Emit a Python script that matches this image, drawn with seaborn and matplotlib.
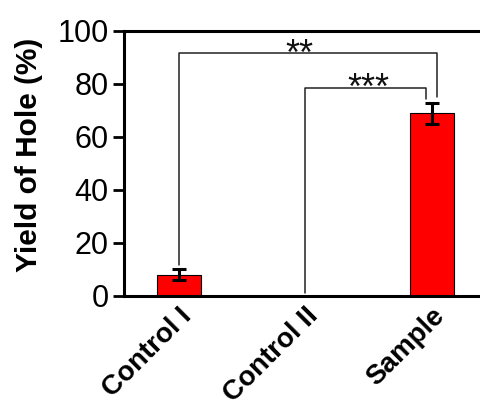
import matplotlib
matplotlib.use("Agg")
import matplotlib.pyplot as plt
import seaborn as sns
import pandas as pd

# data
groups = ["Control I", "Control II", "Sample"]
yield_mean = [8, 0, 69]
yield_err = [2, 0, 4]
y_ticks = [0, 20, 40, 60, 80, 100]

sns.set_style("ticks")
plt.rcParams['font.family'] = ['Liberation Sans', 'DejaVu Sans']

df = pd.DataFrame({"group": groups, "yield": yield_mean})

fig = plt.figure(figsize=(4.81, 4.12), dpi=100)
ax = fig.add_axes([0.258, 0.2816, 0.742, 0.6432])

sns.barplot(data=df, x="group", y="yield", color="#ff0000", edgecolor="black",
            linewidth=0.8, width=0.35, errorbar=None, saturation=1, ax=ax)
ax.errorbar([0, 2], [yield_mean[0], yield_mean[2]], yerr=[yield_err[0], yield_err[2]],
            fmt="none", ecolor="black", elinewidth=2.2, capsize=5, capthick=2.2)

# significance brackets
lc = "#222222"
ax.plot([0, 0, 2.045, 2.045], [11.7, 91.6, 91.6, 75.2], color=lc, lw=1.1)
ax.plot([1, 1, 1.955, 1.955], [1.2, 78.5, 78.5, 74.5], color=lc, lw=1.1)
ax.text(0.95, 87.0, "**", ha="center", va="baseline", fontsize=26, color="#111111")
ax.text(1.5, 74.4, "***", ha="center", va="baseline", fontsize=26, color="#111111")

ax.set_xlim(-0.435, 2.39)
ax.set_ylim(0, 100)
ax.set_yticks(y_ticks)
ax.tick_params(axis="y", labelsize=22, width=2, length=8, pad=3,
               color="black", labelcolor="black")
ax.tick_params(axis="x", length=0, pad=5, labelcolor="black")
ax.set_xticks(range(len(groups)))
ax.set_xticklabels(groups, rotation=45, ha="right", rotation_mode="anchor",
                   fontsize=20, fontweight="bold")
ax.set_xlabel("")
ax.set_ylabel("Yield of Hole (%)", fontsize=21.5, fontweight="bold", color="black")
ax.yaxis.set_label_coords(-0.227, 0.534)

for side in ["left", "bottom", "top"]:
    ax.spines[side].set_linewidth(2.2)
    ax.spines[side].set_color("black")
ax.spines["right"].set_visible(False)

fig.savefig("out.png", dpi=100)
